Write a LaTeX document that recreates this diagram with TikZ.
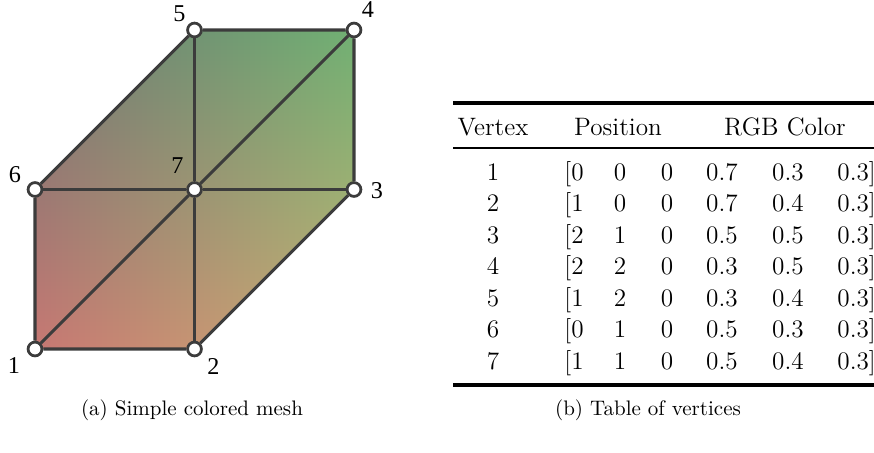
\documentclass[tikz,border=0pt]{standalone}
\usepackage{fontspec}
\newfontfamily\labelfont{Liberation Serif}
\usetikzlibrary{backgrounds}
\usepackage{xcolor}

\definecolor{edgegray}{HTML}{3C3C3C}

% colour field of the mesh: red falls with y, green grows with x
\pgfdeclarefunctionalshading{meshcolor}{\pgfpointorigin}{\pgfpoint{100bp}{100bp}}{}{
  25 sub 25 div -0.17 mul 0.78 add
  exch
  25 sub 25 div 0.11 mul 0.47 add
  0.45
}

\begin{document}
\begin{tikzpicture}[
    x=0.476pt, y=-0.476pt,
    vertex/.style={circle, draw=edgegray, fill=white, line width=1.3pt, minimum size=6.6pt, inner sep=0pt},
    edge/.style={draw=edgegray, line width=1.5pt},
    vlabel/.style={inner sep=0pt, font=\labelfont\fontsize{11.5}{13}\selectfont},
    cell/.style={anchor=base, inner sep=0pt, font=\fontsize{12}{14.5}\selectfont},
    subcap/.style={inner sep=0pt, font=\fontsize{10}{12}\selectfont}
]
\useasboundingbox (0,0) rectangle (874,452);

% Mesh vertices
\node[vertex] (v1) at (35,349) {};
\node[vertex] (v2) at (194.5,349) {};
\node[vertex] (v3) at (354,189.5) {};
\node[vertex] (v4) at (354,30) {};
\node[vertex] (v5) at (194.5,30) {};
\node[vertex] (v6) at (35,189.5) {};
\node[vertex] (v7) at (194.5,189.5) {};

% Faces and edges, behind the vertices
\begin{scope}[on background layer]
\shade[shading=meshcolor] (v1.center) -- (v2.center) -- (v3.center) -- (v4.center)
    -- (v5.center) -- (v6.center) -- cycle;
\draw[edge] (v1) -- (v2) -- (v3) -- (v4) -- (v5) -- (v6) -- (v1);
\draw[edge] (v6) -- (v7) -- (v3);
\draw[edge] (v5) -- (v7) -- (v2);
\draw[edge] (v1) -- (v7) -- (v4);
\end{scope}

% Vertex numbers
\node[vlabel] (l1) at ([shift={(-21,17)}]v1) {1};
\node[vlabel] (l2) at ([shift={(19,17)}]v2) {2};
\node[vlabel] (l3) at ([shift={(23,1)}]v3) {3};
\node[vlabel] (l4) at ([shift={(14,-20)}]v4) {4};
\node[vlabel] (l5) at ([shift={(-15,-16)}]v5) {5};
\node[vlabel] (l6) at ([shift={(-20,-15)}]v6) {6};
\node[vlabel] (l7) at ([shift={(-17,-24)}]v7) {7};

% Table
\draw[line width=1.5pt] (453,103) -- (880,103);
\draw[line width=1.1pt] (453,148) -- (880,148);
\draw[line width=1.8pt] (453,385) -- (880,385);
\node[cell] (hvertex) at (493,135) {Vertex};
\node[cell] (hpos) at (618,135) {Position};
\node[cell] (hrgb) at (785,135) {RGB Color};
\foreach \v/\px/\py/\pz/\cr/\cg/\cb [count=\i] in {1/0/0/0/0.7/0.3/0.3, 2/1/0/0/0.7/0.4/0.3,
    3/2/1/0/0.5/0.5/0.3, 4/2/2/0/0.3/0.5/0.3, 5/1/2/0/0.3/0.4/0.3, 6/0/1/0/0.5/0.3/0.3,
    7/1/1/0/0.5/0.4/0.3} {
  \node[cell] (r\i v) at (493,{148.5+31.5*\i}) {\v};
  \node[cell, anchor=base west] (r\i x) at (564,{148.5+31.5*\i}) {[\px};
  \node[cell] (r\i y) at (620,{148.5+31.5*\i}) {\py};
  \node[cell] (r\i z) at (667,{148.5+31.5*\i}) {\pz};
  \node[cell] (r\i r) at (722,{148.5+31.5*\i}) {\cr};
  \node[cell] (r\i g) at (788,{148.5+31.5*\i}) {\cg};
  \node[cell, anchor=base west] (r\i b) at (837,{148.5+31.5*\i}) {\cb]};
}

% Captions
\node[subcap] (capa) at (192,410) {(a) Simple colored mesh};
\node[subcap] (capb) at (648,410) {(b) Table of vertices};
\end{tikzpicture}
\end{document}
